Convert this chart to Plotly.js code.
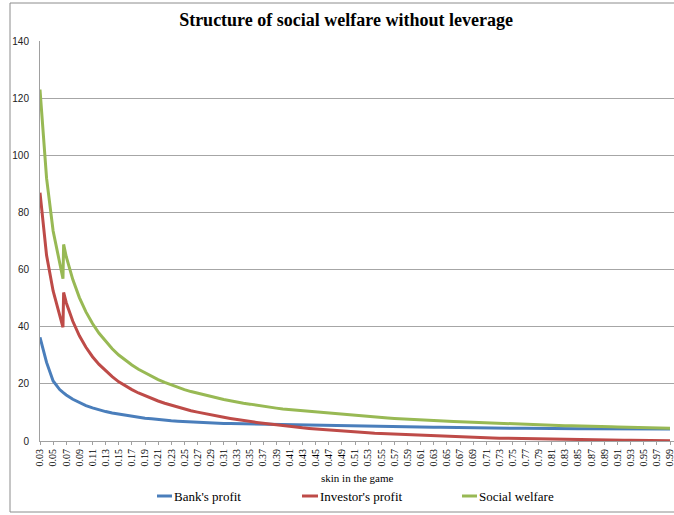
<!DOCTYPE html>
<html>
<head>
<meta charset="utf-8">
<script src="https://cdn.plot.ly/plotly-3.0.1.min.js"></script>
<style>
html,body{margin:0;padding:0;background:#fff;}
#chart{width:674px;height:515px;}
</style>
</head>
<body>
<div id="chart"></div>
<script>
const skin = [0.03,0.04,0.05,0.06,0.065,0.066,0.07,0.08,0.09,0.10,0.11,0.12,0.13,0.14,0.15,0.16,0.17,0.18,0.19,0.20,
0.21,0.22,0.23,0.24,0.25,0.26,0.27,0.28,0.29,0.30,0.31,0.32,0.33,0.34,0.35,0.36,0.37,0.38,0.39,0.40,
0.41,0.42,0.43,0.44,0.45,0.46,0.47,0.48,0.49,0.50,0.51,0.52,0.53,0.54,0.55,0.56,0.57,0.58,0.59,0.60,
0.61,0.62,0.63,0.64,0.65,0.66,0.67,0.68,0.69,0.70,0.71,0.72,0.73,0.74,0.75,0.76,0.77,0.78,0.79,0.80,
0.81,0.82,0.83,0.84,0.85,0.86,0.87,0.88,0.89,0.90,0.91,0.92,0.93,0.94,0.95,0.96,0.97,0.98,0.99];

const bankProfit = [36.3,27.5,21.0,18.0,17.0,16.8,16.1,14.6,13.4,12.4,11.6,10.9,10.3,9.8,9.4,9.0,8.6,8.3,8.0,7.8,
7.5,7.3,7.1,6.95,6.8,6.65,6.5,6.4,6.3,6.2,6.15,6.1,6.05,6.0,5.95,5.9,5.85,5.8,5.75,5.7,
5.65,5.6,5.55,5.5,5.5,5.45,5.4,5.4,5.35,5.3,5.3,5.25,5.2,5.2,5.15,5.1,5.05,5.0,5.0,4.95,
4.9,4.85,4.8,4.8,4.75,4.7,4.7,4.65,4.65,4.6,4.6,4.55,4.55,4.5,4.5,4.45,4.45,4.4,4.4,4.4,
4.35,4.35,4.35,4.3,4.3,4.3,4.3,4.25,4.25,4.25,4.25,4.2,4.2,4.2,4.2,4.2,4.2,4.2,4.2];

const investorProfit = [86.9,65.0,52.5,43.5,39.8,52.0,48.4,41.9,36.8,32.8,29.5,26.8,24.5,22.5,20.7,19.2,18.0,16.8,15.8,14.8,
14.0,13.2,12.5,11.8,11.2,10.6,10.1,9.6,9.2,8.7,8.3,7.9,7.5,7.2,6.8,6.5,6.2,5.9,5.6,5.35,
5.1,4.85,4.6,4.4,4.2,4.0,3.8,3.6,3.45,3.3,3.15,3.0,2.85,2.7,2.6,2.45,2.35,2.25,2.1,2.0,
1.9,1.8,1.7,1.6,1.55,1.45,1.4,1.3,1.25,1.15,1.1,1.05,1.0,0.95,0.9,0.85,0.8,0.75,0.7,0.65,
0.6,0.55,0.55,0.5,0.45,0.45,0.4,0.35,0.35,0.3,0.3,0.25,0.25,0.2,0.2,0.15,0.15,0.1,0.1];

const socialWelfare = [123.0,92.0,73.5,61.5,56.8,68.8,64.5,56.5,50.2,45.2,41.1,37.7,34.8,32.3,30.1,28.2,26.6,25.1,23.8,22.6,
21.5,20.5,19.6,18.8,18.0,17.3,16.7,16.1,15.5,15.0,14.5,14.1,13.6,13.2,12.9,12.5,12.2,11.8,11.5,11.2,
11.0,10.7,10.5,10.2,10.0,9.8,9.6,9.4,9.2,9.0,8.8,8.65,8.5,8.35,8.2,8.05,7.9,7.75,7.6,7.5,
7.35,7.25,7.1,7.0,6.9,6.8,6.7,6.6,6.5,6.4,6.3,6.2,6.1,6.05,5.95,5.85,5.8,5.7,5.6,5.55,
5.5,5.4,5.35,5.3,5.2,5.15,5.1,5.05,5.0,4.95,4.9,4.85,4.8,4.75,4.7,4.65,4.6,4.55,4.5];

const tickVals = [0.03,0.05,0.07,0.09,0.11,0.13,0.15,0.17,0.19,0.21,0.23,0.25,0.27,0.29,0.31,0.33,0.35,0.37,0.39,0.41,0.43,0.45,0.47,0.49,
0.51,0.53,0.55,0.57,0.59,0.61,0.63,0.65,0.67,0.69,0.71,0.73,0.75,0.77,0.79,0.81,0.83,0.85,0.87,0.89,0.91,0.93,0.95,0.97,0.99];
const tickText = tickVals.map(v => v.toFixed(2));

const seriesNames = ["Bank's profit", "Investor's profit", "Social welfare"];
const seriesColors = ["#4A7EBB", "#BE4B48", "#98B954"];
const seriesData = [bankProfit, investorProfit, socialWelfare];

const traces = seriesData.map((d, i) => ({
  x: skin, y: d, type: 'scatter', mode: 'lines', name: seriesNames[i],
  line: {color: seriesColors[i], width: 3}, showlegend: false, hoverinfo: 'skip'
}));

// manual legend (paper coords: x px = 40 + u*634, y px = 441 - v*400)
const W = 634, H = 400, L = 40, B = 441;
const px = x => (x - L) / W;
const py = y => (B - y) / H;
const legendItems = [
  {x0: 157, x1: 172, tx: 172},
  {x0: 302, x1: 318, tx: 318},
  {x0: 462, x1: 477, tx: 477}
];
const shapes = [
  {type: 'rect', xref: 'paper', yref: 'paper', x0: px(10), x1: px(690), y0: py(512), y1: py(3),
   line: {color: '#8c8c8c', width: 1}, fillcolor: 'rgba(0,0,0,0)', layer: 'below'}
];
const annotations = [
  {xref: 'paper', yref: 'paper', x: 0.5, y: py(478), text: 'skin in the game', showarrow: false,
   xanchor: 'center', yanchor: 'middle', font: {family: 'Liberation Serif', size: 11, color: '#000'}}
];
legendItems.forEach((it, i) => {
  shapes.push({type: 'line', xref: 'paper', yref: 'paper', x0: px(it.x0), x1: px(it.x1),
    y0: py(496), y1: py(496), line: {color: seriesColors[i], width: 3}});
  annotations.push({xref: 'paper', yref: 'paper', x: px(it.tx), y: py(496), text: seriesNames[i],
    showarrow: false, xanchor: 'left', yanchor: 'middle',
    font: {family: 'Liberation Serif', size: 13, color: '#000'}});
});

const layout = {
  width: 674, height: 515,
  margin: {l: 40, r: 0, t: 41, b: 74},
  paper_bgcolor: '#fff', plot_bgcolor: '#fff',
  title: {text: '<b>Structure of social welfare without leverage</b>', xref: 'container', yref: 'container',
    x: 346/674, y: 1 - 20/515, xanchor: 'center', yanchor: 'middle',
    font: {family: 'Liberation Serif', size: 18, color: '#000'}},
  xaxis: {
    range: [0.03, 0.03 + 634/656.25], type: 'linear',
    tickvals: tickVals, ticktext: tickText, tickangle: -90, ticklabeloverflow: 'allow',
    tickfont: {family: 'Liberation Serif', size: 10, color: '#000'},
    showgrid: false, zeroline: false, showline: true, linecolor: '#a0a0a0', linewidth: 1,
    ticks: 'outside', ticklen: 3, tickcolor: '#a0a0a0', fixedrange: true
  },
  yaxis: {
    range: [0, 140], dtick: 20, tick0: 0,
    tickfont: {family: 'Liberation Sans', size: 10, color: '#222'},
    showgrid: true, gridcolor: '#a6a6a6', gridwidth: 1, zeroline: false,
    showline: true, linecolor: '#a0a0a0', linewidth: 1, ticks: '', ticklabelstandoff: 8, fixedrange: true
  },
  shapes: shapes,
  annotations: annotations
};

Plotly.newPlot('chart', traces, layout, {displayModeBar: false, staticPlot: true});
</script>
</body>
</html>
